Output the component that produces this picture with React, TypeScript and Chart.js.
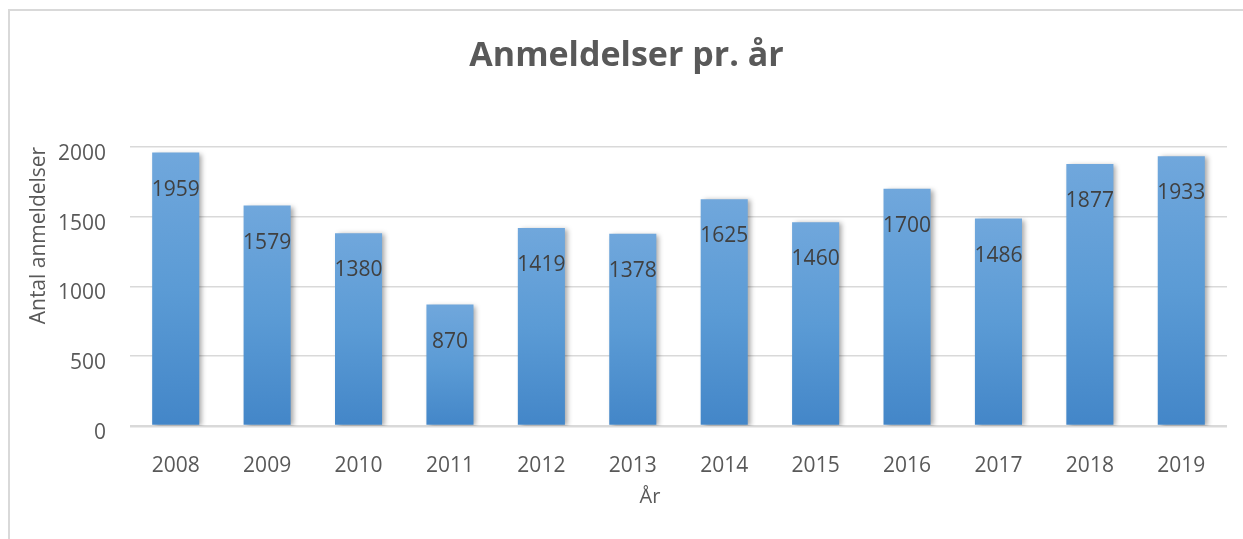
import React, { useEffect, useRef } from "react";
import { Chart, registerables } from "chart.js";

Chart.register(...registerables);

const categories = ["2008", "2009", "2010", "2011", "2012", "2013", "2014", "2015", "2016", "2017", "2018", "2019"];
const values = [1959, 1579, 1380, 870, 1419, 1378, 1625, 1460, 1700, 1486, 1877, 1933];
const yTicks = [0, 500, 1000, 1500, 2000];

const FONT = "'Open Sans', sans-serif";

const shadowPlugin = {
  id: "barShadow",
  beforeDatasetsDraw(chart: any) {
    const ctx = chart.ctx;
    ctx.save();
    ctx.shadowColor = "rgba(0,0,0,0.35)";
    ctx.shadowBlur = 5;
    ctx.shadowOffsetX = 3;
    ctx.shadowOffsetY = 1;
  },
  afterDatasetsDraw(chart: any) {
    const ctx = chart.ctx;
    ctx.restore();
    const meta = chart.getDatasetMeta(0);
    ctx.save();
    ctx.font = `21px ${FONT}`;
    ctx.fillStyle = "#404040";
    ctx.textAlign = "center";
    ctx.textBaseline = "middle";
    meta.data.forEach((bar: any, i: number) => {
      ctx.fillText(String(values[i]), bar.x, bar.y + 37);
    });
    ctx.restore();
  },
};

export default function App() {
  const ref = useRef<HTMLCanvasElement | null>(null);
  useEffect(() => {
    if (!ref.current) return;
    const chart = new Chart(ref.current, {
      type: "bar",
      data: {
        labels: categories,
        datasets: [
          {
            data: values,
            backgroundColor: (c: any) => {
              const ch = c.chart;
              const ys = ch.scales && ch.scales.y;
              if (!ys || c.parsed == null) return "#5b9bd5";
              const top = ys.getPixelForValue(c.parsed.y);
              const base = ys.getPixelForValue(0);
              if (!isFinite(top) || !isFinite(base) || top === base) return "#5b9bd5";
              const g = ch.ctx.createLinearGradient(0, top, 0, base);
              g.addColorStop(0, "#70a7dc");
              g.addColorStop(0.5, "#5b9bd5");
              g.addColorStop(1, "#4386c8");
              return g;
            },
            borderWidth: 0,
            categoryPercentage: 1,
            barPercentage: 0.515,
          },
        ],
      },
      options: {
        animation: false,
        responsive: false,
        devicePixelRatio: 1,
        layout: { padding: { left: 16, right: 16, top: 0, bottom: 30 } },
        plugins: {
          legend: { display: false },
          tooltip: { enabled: false },
          title: {
            display: true,
            text: "Anmeldelser pr. år",
            color: "#595959",
            font: { family: FONT, size: 34, weight: "bold" },
            padding: { top: 25, bottom: 70 },
          },
        },
        scales: {
          x: {
            grid: { display: false, drawTicks: false },
            border: { display: false },
            ticks: { color: "#595959", font: { family: FONT, size: 21 }, padding: 27 },
            title: {
              display: true,
              text: "År" + "           ",
              color: "#595959",
              font: { family: FONT, size: 20 },
              padding: { top: 0, bottom: 0 },
            },
            afterFit: (s: any) => {
              s.height = 83;
            },
          },
          y: {
            min: 0,
            max: 2000,
            afterBuildTicks: (axis: any) => {
              axis.ticks = yTicks.map((v) => ({ value: v }));
            },
            afterFit: (s: any) => {
              s.width = 104;
            },
            grid: {
              color: "#d9d9d9",
              lineWidth: (c: any) => (c.tick && c.tick.value === 0 ? 2.5 : 1.5),
              drawTicks: false,
            },
            border: { display: false },
            ticks: {
              color: "#595959",
              font: { family: FONT, size: 21 },
              padding: 24,
              labelOffset: 7,
              callback: (v: any) => String(v),
            },
            title: {
              display: true,
              text: "Antal anmeldelser",
              align: "end",
              color: "#595959",
              font: { family: FONT, size: 21 },
              padding: { top: 0, bottom: 0 },
            },
          },
        },
      },
      plugins: [shadowPlugin],
    } as any);
    return () => chart.destroy();
  }, []);

  return (
    <div
      style={{
        position: "absolute",
        left: 8,
        top: 9,
        width: 1235,
        height: 530,
        borderTop: "2px solid #d9d9d9",
        borderLeft: "2px solid #d9d9d9",
        background: "#fff",
      }}
    >
      <canvas ref={ref} width={1233} height={528} style={{ display: "block", width: 1233, height: 528 }} />
    </div>
  );
}
